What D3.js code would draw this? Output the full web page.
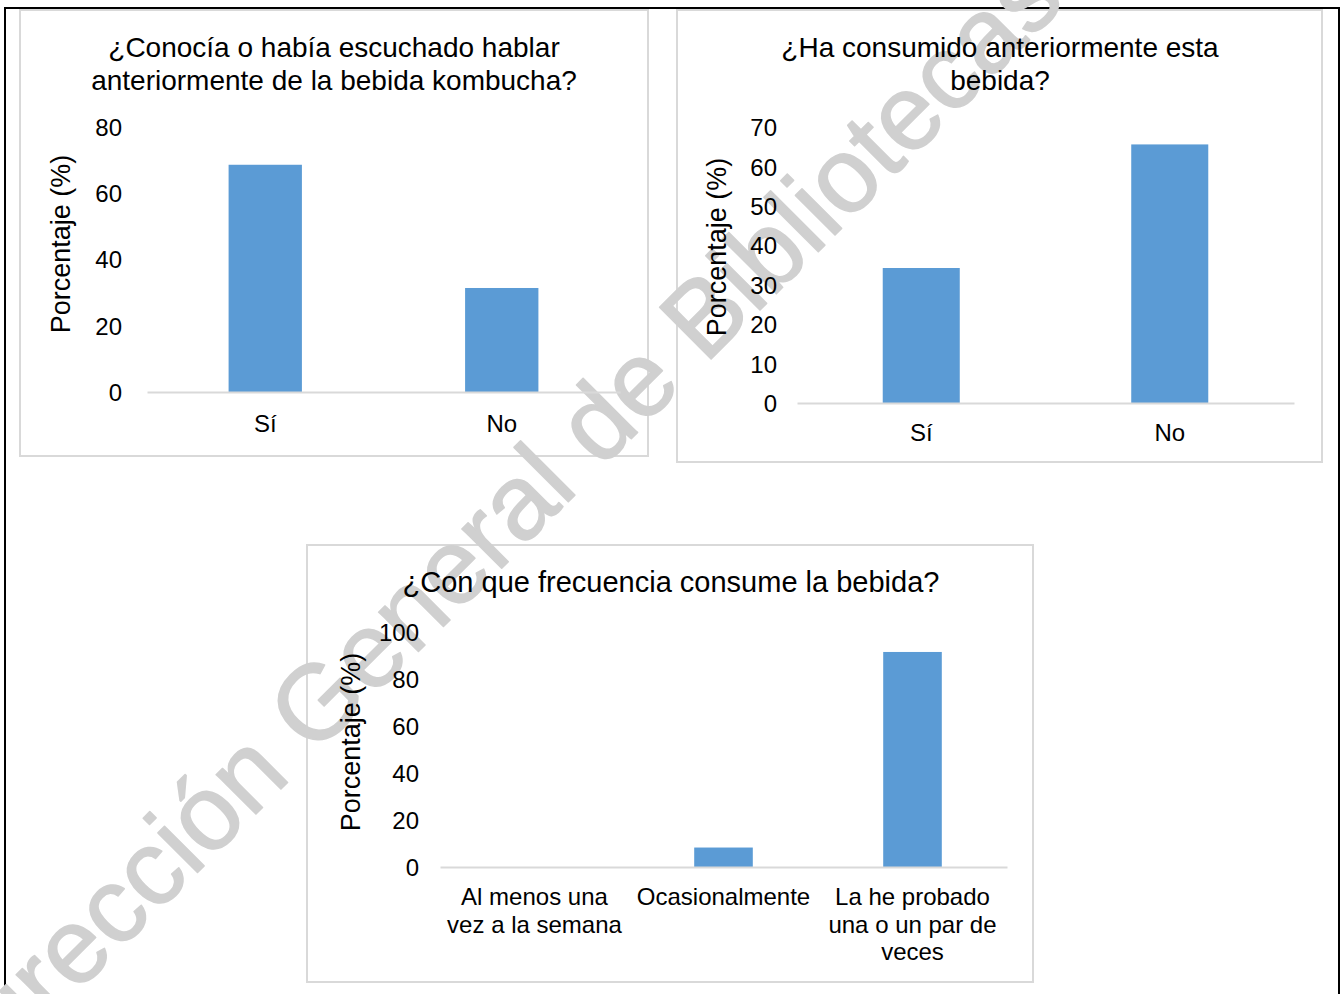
<!DOCTYPE html>
<html>
<head>
<meta charset="utf-8">
<script src="https://cdn.jsdelivr.net/npm/d3@7"></script>
<style>
  html, body { margin: 0; padding: 0; background: #ffffff; }
  svg { display: block; font-family: "Liberation Sans", Arial, sans-serif; }
</style>
</head>
<body>
<svg id="chart" width="1341" height="994"></svg>
<script>
// ---------------- DATA ----------------
const chart1Title = ["¿Conocía o había escuchado hablar", "anteriormente de la bebida kombucha?"];
const chart1Categories = ["Sí", "No"];
const chart1Values = [68.6, 31.4];
const chart1Ticks = [0, 20, 40, 60, 80];

const chart2Title = ["¿Ha consumido anteriormente esta", "bebida?"];
const chart2Categories = ["Sí", "No"];
const chart2Values = [34.3, 65.7];
const chart2Ticks = [0, 10, 20, 30, 40, 50, 60, 70];

const chart3Title = ["¿Con que frecuencia consume la bebida?"];
const chart3Categories = ["Al menos una vez a la semana", "Ocasionalmente", "La he probado una o un par de veces"];
const chart3LabelLines = [["Al menos una", "vez a la semana"], ["Ocasionalmente"], ["La he probado", "una o un par de", "veces"]];
const chart3Values = [0, 8.3, 91.7];
const chart3Ticks = [0, 20, 40, 60, 80, 100];

const yAxisTitle = "Porcentaje (%)";
const watermarkText = "Dirección General de Bibliotecas";

// ---------------- DRAWING ----------------
const svg = d3.select("#chart");
const BAR = "#5b9bd5";
const FRAME = "#d9d9d9";

// outer black frame
svg.append("rect")
  .attr("x", 5).attr("y", 8).attr("width", 1334).attr("height", 1010)
  .attr("fill", "none").attr("stroke", "#000").attr("stroke-width", 2);

const panels = [
  { frame: [20, 10, 648, 456], title: chart1Title, titleX: 334, titleY: 57, titleSize: 28, lineH: 33,
    cats: chart1Categories, labels: chart1Categories.map(d => [d]), values: chart1Values, ticks: chart1Ticks,
    x0: 147, x1: 620, y0: 392, y1: 127, yLabelX: 70, yLabelY: 244, xLabelY: 432, tickPad: 25 },
  { frame: [677, 10, 1322, 462], title: chart2Title, titleX: 1000, titleY: 57, titleSize: 28, lineH: 33,
    cats: chart2Categories, labels: chart2Categories.map(d => [d]), values: chart2Values, ticks: chart2Ticks,
    x0: 797, x1: 1294, y0: 403, y1: 127.5, yLabelX: 726, yLabelY: 247, xLabelY: 441, tickPad: 20 },
  { frame: [307, 545, 1033, 982], title: chart3Title, titleX: 671, titleY: 592, titleSize: 29, lineH: 33,
    cats: chart3Categories, labels: chart3LabelLines, values: chart3Values, ticks: chart3Ticks,
    x0: 440, x1: 1007, y0: 867, y1: 632.5, yLabelX: 360, yLabelY: 742, xLabelY: 905, tickPad: 21, xLineH: 27.5 }
];

// panel frames
panels.forEach(p => {
  const [l, t, r, b] = p.frame;
  svg.append("rect")
    .attr("x", l).attr("y", t).attr("width", r - l).attr("height", b - t)
    .attr("fill", "none").attr("stroke", FRAME).attr("stroke-width", 2);
});

// watermark (behind chart contents)
svg.append("text")
  .attr("transform", "translate(-20,1090) rotate(-45)")
  .attr("font-size", 106)
  .attr("fill", "#d0d0d0")
  .attr("stroke", "#d0d0d0")
  .attr("stroke-width", 1.5)
  .attr("stroke-linejoin", "round")
  .text(watermarkText);

panels.forEach(p => {
  const g = svg.append("g");
  const x = d3.scaleBand().domain(p.cats).range([p.x0, p.x1]).paddingInner(0.69).paddingOuter(0.345);
  const y = d3.scaleLinear().domain([0, p.ticks[p.ticks.length - 1]]).range([p.y0, p.y1]);

  // title
  const title = g.append("text")
    .attr("text-anchor", "middle")
    .attr("font-size", p.titleSize)
    .attr("fill", "#000");
  p.title.forEach((line, i) => {
    title.append("tspan").attr("x", p.titleX).attr("y", p.titleY + i * p.lineH).text(line);
  });

  // y axis (labels only)
  const yAxis = g.append("g")
    .attr("transform", `translate(${p.x0},0)`)
    .call(d3.axisLeft(y).tickValues(p.ticks).tickSize(0).tickPadding(p.tickPad).tickFormat(d3.format("d")));
  yAxis.select(".domain").remove();
  yAxis.selectAll("text").attr("font-size", 24).attr("fill", "#000")
    .attr("font-family", "Liberation Sans, Arial, sans-serif").attr("dy", "0.35em");

  // bars
  g.selectAll("rect.bar")
    .data(p.values)
    .join("rect")
    .attr("class", "bar")
    .attr("x", (d, i) => x(p.cats[i]))
    .attr("width", x.bandwidth())
    .attr("y", d => y(d))
    .attr("height", d => y(0) - y(d))
    .attr("fill", BAR);

  // x axis line
  const xAxis = g.append("g")
    .attr("transform", `translate(0,${p.y0})`)
    .call(d3.axisBottom(x).tickSize(0).tickSizeOuter(0).tickFormat(""));
  xAxis.select(".domain").attr("stroke", FRAME).attr("stroke-width", 2);
  xAxis.selectAll(".tick").remove();

  // category labels (wrapped)
  p.cats.forEach((c, i) => {
    const t = g.append("text")
      .attr("text-anchor", "middle")
      .attr("font-size", 24)
      .attr("fill", "#000");
    p.labels[i].forEach((line, j) => {
      t.append("tspan")
        .attr("x", x(c) + x.bandwidth() / 2)
        .attr("y", p.xLabelY + j * (p.xLineH || 27.5))
        .text(line);
    });
  });

  // y axis title
  g.append("text")
    .attr("transform", `translate(${p.yLabelX},${p.yLabelY}) rotate(-90)`)
    .attr("text-anchor", "middle")
    .attr("font-size", 27)
    .attr("fill", "#000")
    .text(yAxisTitle);
});
</script>
</body>
</html>
